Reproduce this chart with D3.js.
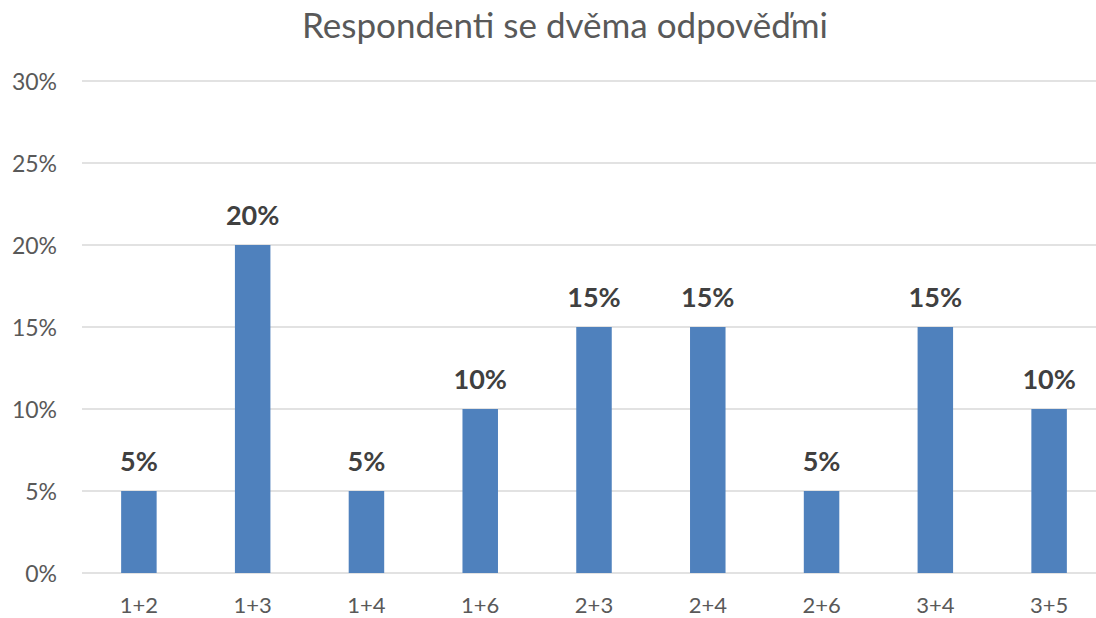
<!DOCTYPE html>
<html>
<head>
<meta charset="utf-8">
<script src="https://cdn.jsdelivr.net/npm/d3@7"></script>
<style>
  body { margin: 0; background: #fff; }
  text { font-family: Lato, "Open Sans", sans-serif; }
</style>
</head>
<body>
<script>
const categories = ['1+2', '1+3', '1+4', '1+6', '2+3', '2+4', '2+6', '3+4', '3+5'];
const values = [0.05, 0.20, 0.05, 0.10, 0.15, 0.15, 0.05, 0.15, 0.10];
const yTicks = [0, 0.05, 0.10, 0.15, 0.20, 0.25, 0.30];

const width = 1096;
const height = 618;

const svg = d3.select('body').append('svg')
    .attr('width', width)
    .attr('height', height);

// plot area runs past the right edge in the original, so it gets cut off
const x = d3.scaleBand()
    .domain(categories)
    .range([82, 1106])
    .paddingInner(0.688)
    .paddingOuter(0.344);

const y = d3.scaleLinear()
    .domain([0, 0.30])
    .range([573, 81]);

const fmt = d3.format('.0%');

svg.append('text')
    .text('Respondenti se dvěma odpověďmi')
    .attr('x', 565)
    .attr('y', 38)
    .attr('text-anchor', 'middle')
    .attr('font-size', 35)
    .attr('fill', '#595959');

// gridlines
svg.append('g')
    .selectAll('line')
    .data(yTicks)
    .enter()
    .append('line')
    .attr('x1', 82)
    .attr('x2', width)
    .attr('y1', d => y(d))
    .attr('y2', d => y(d))
    .attr('stroke', '#d9d9d9')
    .attr('stroke-width', 1.5);

// y tick labels
svg.append('g')
    .selectAll('text')
    .data(yTicks)
    .enter()
    .append('text')
    .text(d => fmt(d))
    .attr('x', 57)
    .attr('y', d => y(d) + 9)
    .attr('text-anchor', 'end')
    .attr('font-size', 23)
    .attr('fill', '#595959');

// bars
svg.append('g')
    .selectAll('rect')
    .data(values)
    .enter()
    .append('rect')
    .attr('x', (d, i) => x(categories[i]))
    .attr('y', d => y(d))
    .attr('width', x.bandwidth())
    .attr('height', d => y(0) - y(d))
    .attr('fill', '#4f81bd');

// value labels
svg.append('g')
    .selectAll('text')
    .data(values)
    .enter()
    .append('text')
    .text(d => fmt(d))
    .attr('x', (d, i) => x(categories[i]) + x.bandwidth() / 2)
    .attr('y', d => y(d) - 20)
    .attr('text-anchor', 'middle')
    .attr('font-size', 27)
    .attr('font-weight', 'bold')
    .attr('fill', '#404040');

// category labels
svg.append('g')
    .selectAll('text')
    .data(categories)
    .enter()
    .append('text')
    .text(d => d)
    .attr('x', d => x(d) + x.bandwidth() / 2)
    .attr('y', 613)
    .attr('text-anchor', 'middle')
    .attr('font-size', 22)
    .attr('fill', '#595959');
</script>
</body>
</html>
